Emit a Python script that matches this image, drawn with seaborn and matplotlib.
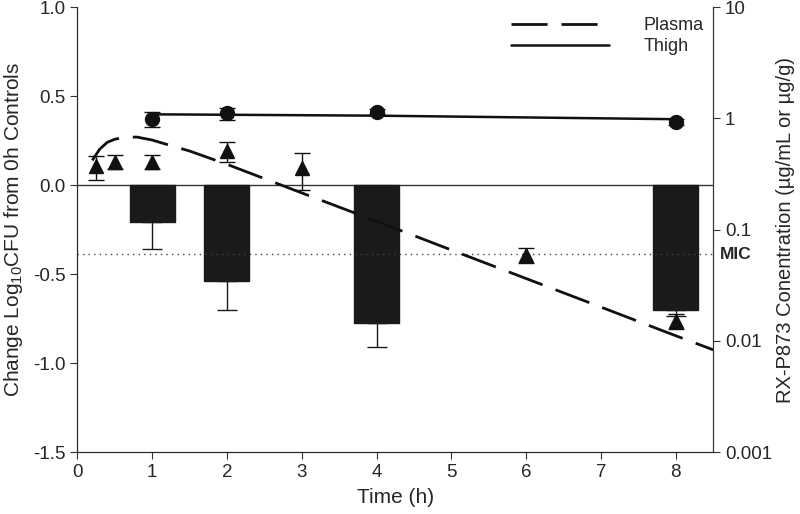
import numpy as np
import pandas as pd
import matplotlib.pyplot as plt
import seaborn as sns

# Bars: change in log10 CFU vs 0h controls (left axis)
bar_time = [1, 2, 4, 8]
bar_change = [-0.206, -0.539, -0.774, -0.704]
bar_sd = [0.155, 0.165, 0.133, 0.03]

# Plasma concentrations (triangles, right axis)
plasma_time = [0.25, 0.5, 1, 2, 3, 6, 8]
plasma_conc = [0.37, 0.41, 0.41, 0.51, 0.356, 0.059, 0.0151]
plasma_sd = [0.09, 0.058, 0.058, 0.105, 0.13, 0.009, 0.0022]

# Thigh concentrations (circles, right axis)
thigh_time = [1, 2, 4, 8]
thigh_conc = [0.99, 1.11, 1.15, 0.93]
thigh_sd = [0.16, 0.14, 0.06, 0.06]

# Fitted model curves
plasma_fit_time = [0.2, 0.3, 0.4, 0.5, 0.65, 0.8, 1.0, 1.25, 1.5, 2, 3, 4, 5, 6, 7, 8, 8.5]
plasma_fit_conc = [0.42, 0.53, 0.61, 0.65, 0.68, 0.68, 0.64, 0.57, 0.51, 0.387, 0.214,
                   0.119, 0.0656, 0.0363, 0.0201, 0.0111, 0.0083]
thigh_fit_time = [1, 2, 4, 8]
thigh_fit_conc = [1.09, 1.08, 1.06, 0.985]

mic = 0.06

sns.set_style('ticks')
plt.rcParams['font.family'] = ['Liberation Sans', 'DejaVu Sans']
plt.rcParams['mathtext.default'] = 'regular'
plt.rcParams['axes.unicode_minus'] = False

fig = plt.figure(figsize=(8, 5.14), dpi=100)
ax = fig.add_axes([0.0966, 0.1206, 0.795, 0.8652])

# bars on the left axis
ax.bar(bar_time, bar_change, width=0.6, color='#1a1a1a', edgecolor='#1a1a1a', zorder=2)
ax.errorbar(bar_time, bar_change, yerr=[bar_sd, [0] * len(bar_sd)], fmt='none',
            ecolor='#1a1a1a', elinewidth=1, capsize=7.5, capthick=1, zorder=2)
ax.axhline(0, color='#333333', lw=1, zorder=1)

ax.set_xlim(0, 8.5)
ax.set_ylim(-1.5, 1.0)
ax.set_xticks(range(0, 9))
ax.set_yticks([-1.5, -1.0, -0.5, 0.0, 0.5, 1.0])
ax.set_yticklabels(['-1.5', '-1.0', '-0.5', '0.0', '0.5', '1.0'])
ax.set_xlabel('Time (h)', fontsize=15, labelpad=5)
ax.set_ylabel('Change Log$_{10}$CFU from 0h Controls', fontsize=15, labelpad=6)
ax.tick_params(labelsize=13.5, length=5, color='#333333')
for s in ['left', 'bottom']:
    ax.spines[s].set_color('#333333')
ax.spines['top'].set_visible(False)

# concentrations on the right (log) axis
ax2 = ax.twinx()
ax2.set_yscale('log')

pf = pd.DataFrame({'t': plasma_fit_time, 'c': plasma_fit_conc})
tf = pd.DataFrame({'t': thigh_fit_time, 'c': thigh_fit_conc})
sns.lineplot(data=pf, x='t', y='c', ax=ax2, color='#111111', lw=2,
             dashes=False, label='Plasma', sort=False)
ax2.lines[-1].set_dashes((13, 5))
sns.lineplot(data=tf, x='t', y='c', ax=ax2, color='#111111', lw=1.8, label='Thigh', sort=False)

ax2.axhline(mic, color='#444444', lw=1, ls=(0, (1, 3)), zorder=1)

ax2.errorbar(plasma_time, plasma_conc, yerr=plasma_sd, fmt='^', color='#111111',
             ms=9.5, elinewidth=1, capsize=6, capthick=1)
ax2.errorbar(thigh_time, thigh_conc, yerr=thigh_sd, fmt='o', color='#111111',
             ms=10, elinewidth=1, capsize=6, capthick=1)

ax2.set_ylim(0.001, 10)
ax2.set_yticks([0.001, 0.01, 0.1, 1, 10])
ax2.set_yticklabels(['0.001', '0.01', '0.1', '1', '10'])
ax2.minorticks_off()
ax2.tick_params(labelsize=13.5, length=5, color='#333333')
ax2.set_ylabel('RX-P873 Conentration (\u00b5g/mL or \u00b5g/g)', fontsize=14.5, labelpad=3)
ax2.spines['right'].set_color('#333333')
ax2.spines['top'].set_visible(False)
ax2.text(1.01, mic, 'MIC', transform=ax2.get_yaxis_transform(), fontsize=12.5,
         fontweight='bold', va='center', ha='left')

ax2.legend(loc='upper right', bbox_to_anchor=(1.01, 1.015), frameon=False,
           handlelength=5.4, handletextpad=1.9, fontsize=13, labelspacing=0.25)

fig.savefig('out.png', dpi=100)
